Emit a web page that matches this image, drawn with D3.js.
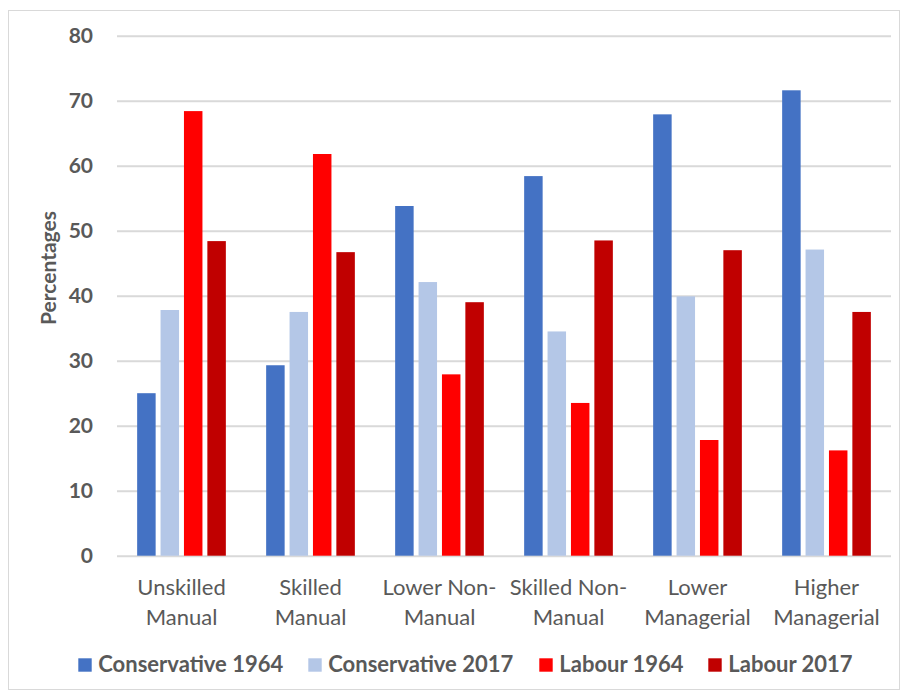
<!DOCTYPE html>
<html><head><meta charset="utf-8">
<script src="https://cdn.jsdelivr.net/npm/d3@7"></script>
<style>body{margin:0;background:#fff}svg{display:block}</style>
</head><body>
<script>
const categories = [["Unskilled","Manual"],["Skilled","Manual"],["Lower Non-","Manual"],["Skilled Non-","Manual"],["Lower","Managerial"],["Higher","Managerial"]];
const seriesNames = ["Conservative 1964","Conservative 2017","Labour 1964","Labour 2017"];
const con1964 = [25.0, 29.3, 53.8, 58.4, 67.9, 71.6];
const con2017 = [37.8, 37.5, 42.1, 34.5, 39.9, 47.1];
const lab1964 = [68.4, 61.8, 27.9, 23.5, 17.8, 16.2];
const lab2017 = [48.4, 46.7, 39.0, 48.5, 47.0, 37.5];
const yTicks = [0,10,20,30,40,50,60,70,80];
const colors = ["#4472C4","#B4C7E7","#FF0000","#C00000"];

const W=901,H=692;
const svg=d3.select("body").append("svg").attr("width",W).attr("height",H);
const font="Lato, 'Open Sans', sans-serif";
const txt="#595959";
svg.append("rect").attr("x",8.5).attr("y",10.5).attr("width",891).attr("height",679).attr("fill","#fff").attr("stroke","#d9d9d9");

const m={l:117,r:891,t:35.7,b:555.7};
const x=d3.scaleBand().domain(d3.range(categories.length)).range([m.l,m.r]).padding(0);
const y=d3.scaleLinear().domain([0,80]).range([m.b,m.t]);
const gw=88.7;
const sub=d3.scaleBand().domain(d3.range(4)).range([0,gw]).paddingInner(0.21);

const gy=svg.append("g").attr("transform",`translate(${m.l},0)`)
  .call(d3.axisLeft(y).tickValues(yTicks).tickSize(-(m.r-m.l)).tickPadding(24));
gy.select(".domain").remove();
gy.selectAll(".tick line").attr("stroke","#d9d9d9").attr("stroke-width",2);
gy.selectAll(".tick text").attr("font-family",font).attr("font-weight","bold").attr("font-size",21).attr("fill",txt);

const data=[con1964,con2017,lab1964,lab2017];
const groups=svg.append("g").selectAll("g").data(categories).join("g")
  .attr("transform",(d,i)=>`translate(${x(i)+x.bandwidth()/2-gw/2},0)`);
groups.selectAll("rect").data((d,i)=>data.map((s,k)=>({k,v:s[i]}))).join("rect")
  .attr("x",d=>sub(d.k)).attr("width",sub.bandwidth())
  .attr("y",d=>y(d.v)).attr("height",d=>y(0)-y(d.v)).attr("fill",d=>colors[d.k]);

const xl=svg.append("g");
categories.forEach((c,i)=>{
  c.forEach((line,j)=>{
    xl.append("text").attr("x",x(i)+x.bandwidth()/2).attr("y",595+j*30).attr("text-anchor","middle")
      .attr("font-family",font).attr("font-size",22).attr("fill",txt).text(line);
  });
});

svg.append("text").attr("transform","translate(56,268) rotate(-90)").attr("text-anchor","middle")
  .attr("font-family",font).attr("font-weight","bold").attr("font-size",21).attr("fill",txt).text("Percentages");

const legX=[78.3,308.3,539.3,708.3];
const lg=svg.append("g").selectAll("g").data(seriesNames).join("g").attr("transform",(d,i)=>`translate(${legX[i]},658.3)`);
lg.append("rect").attr("width",13.4).attr("height",13.4).attr("fill",(d,i)=>colors[i]);
lg.append("text").attr("x",20).attr("y",14).attr("font-family",font).attr("font-weight","bold").attr("font-size",22).attr("fill",txt).text(d=>d);
</script>
</body></html>
